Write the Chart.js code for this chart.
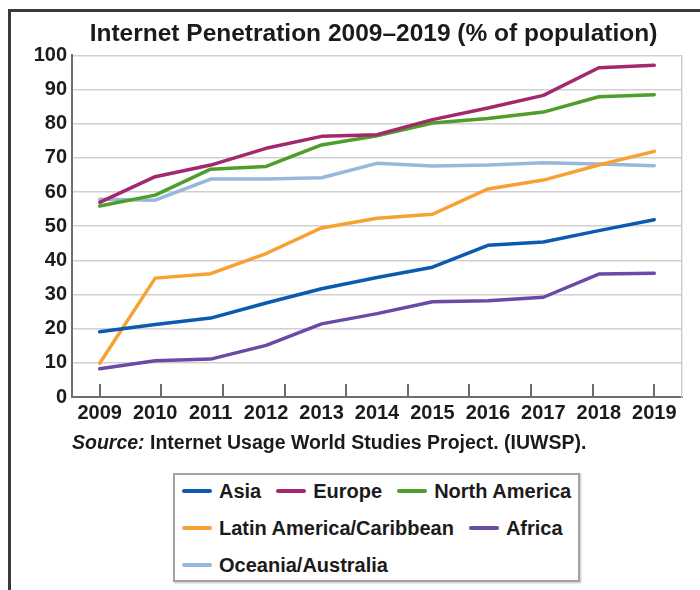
<!DOCTYPE html>
<html>
<head>
<meta charset="utf-8">
<script src="https://cdn.jsdelivr.net/npm/chart.js@4.4.1/dist/chart.umd.min.js"></script>
<style>
  html, body { margin: 0; padding: 0; background: #fff; }
  #wrap { position: relative; width: 700px; height: 590px; overflow: hidden;
          font-family: "Liberation Sans", Arial, Helvetica, sans-serif; color: #1b1b1b; }
  #frameTop { position: absolute; left: 8px; top: 9px; width: 692px; height: 3px; background: #3a3a3a; }
  #frameLeft { position: absolute; left: 8px; top: 9px; width: 3px; height: 581px; background: #3a3a3a; }
  #cv { position: absolute; left: 0; top: 0; }
  #source { position: absolute; left: 72px; top: 431px; font-size: 19.5px; font-weight: bold;
            line-height: 22px; white-space: nowrap; }
  #source i { font-weight: bold; }
  #legend { position: absolute; left: 173px; top: 473px; width: 403px; height: 105px;
            border: 2px solid #a3a3a3; box-shadow: 1px 1px 2px rgba(0,0,0,0.25); background: #fff; }
  .row { position: absolute; left: 7px; height: 24px; display: flex; align-items: center; white-space: nowrap; }
  .item { display: flex; align-items: center; margin-right: 15px; font-size: 20px; font-weight: bold; }
  .sw { width: 30px; height: 4px; border-radius: 2px; margin-right: 7px; }
</style>
</head>
<body>
<div id="wrap">
  <div id="frameTop"></div>
  <div id="frameLeft"></div>
  <canvas id="cv" width="700" height="435"></canvas>
  <div id="source"><i>Source:</i> Internet Usage World Studies Project. (IUWSP).</div>
  <div id="legend"></div>
</div>
<script>
const years = ['2009','2010','2011','2012','2013','2014','2015','2016','2017','2018','2019'];
const yTickValues = [0,10,20,30,40,50,60,70,80,90,100];

const asia         = [19.1, 21.2, 23.1, 27.5, 31.7, 35.0, 38.0, 44.4, 45.4, 48.7, 51.9];
const europe       = [57.0, 64.5, 67.9, 72.8, 76.3, 76.8, 81.2, 84.6, 88.3, 96.4, 97.1];
const northAmerica = [55.9, 59.1, 66.7, 67.5, 73.8, 76.5, 80.2, 81.5, 83.4, 87.9, 88.5];
const latinAmerica = [9.9, 34.8, 36.1, 42.0, 49.5, 52.3, 53.5, 60.9, 63.5, 67.9, 71.9];
const africa       = [8.3, 10.6, 11.1, 15.1, 21.4, 24.4, 27.9, 28.2, 29.2, 36.0, 36.2];
const oceania      = [57.9, 57.6, 63.8, 63.8, 64.2, 68.4, 67.6, 67.9, 68.6, 68.2, 67.7];

const seriesNames  = ['Asia', 'Europe', 'North America', 'Latin America/Caribbean', 'Africa', 'Oceania/Australia'];
const seriesValues = [asia, europe, northAmerica, latinAmerica, africa, oceania];
const seriesColors = ['#0c5bae', '#a3286d', '#4f9d2b', '#f8a133', '#6a4aa6', '#96b8da'];

const datasets = seriesNames.map((name, i) => ({
  label: name,
  data: seriesValues[i],
  borderColor: seriesColors[i],
  backgroundColor: seriesColors[i],
  borderWidth: 3.5,
  pointRadius: 0,
  pointHoverRadius: 0,
  tension: 0,
  fill: false,
  borderJoinStyle: 'round',
  borderCapStyle: 'round'
}));

// inner tick marks rising from the x axis (10 evenly spaced between first and last year, as in the source)
const innerTicks = {
  id: 'innerTicks',
  afterLayout(chart) {
    // nudge the title a few pixels left, as in the source
    if (chart.titleBlock) { chart.titleBlock.left -= 7; }
  },
  beforeDatasetsDraw(chart) {
    const xs = chart.scales.x, ctx = chart.ctx;
    const p0 = xs.getPixelForValue(0), p1 = xs.getPixelForValue(years.length - 1);
    const n = 10;
    ctx.save();
    ctx.strokeStyle = '#6b6b6b';
    ctx.lineWidth = 2;
    for (let k = 0; k < n; k++) {
      const px = Math.round(p0 + (p1 - p0) * k / (n - 1));
      ctx.beginPath();
      ctx.moveTo(px, xs.top);
      ctx.lineTo(px, xs.top - 13);
      ctx.stroke();
    }
    ctx.restore();
  }
};

const FONT = '"Liberation Sans", Arial, Helvetica, sans-serif';

const chart = new Chart(document.getElementById('cv'), {
  type: 'line',
  data: { labels: years, datasets: datasets },
  options: {
    responsive: false,
    animation: false,
    devicePixelRatio: 1,
    layout: { padding: { left: 32, right: 18, top: 10, bottom: 6 } },
    plugins: {
      legend: { display: false },
      tooltip: { enabled: false },
      title: {
        display: true,
        fullSize: false,
        text: 'Internet Penetration 2009\u20132019 (% of population)',
        color: '#1b1b1b',
        font: { family: FONT, size: 24.5, weight: 'bold' },
        padding: { top: 10, bottom: 6 }
      }
    },
    scales: {
      x: {
        type: 'category',
        offset: true,
        grid: { display: false, drawTicks: false },
        border: { display: true, color: '#6e6e6e', width: 2 },
        ticks: { color: '#1b1b1b', font: { family: FONT, size: 20, weight: 'bold' },
                 padding: 4, maxRotation: 0, autoSkip: false }
      },
      y: {
        min: 0, max: 100,
        afterBuildTicks: (axis) => { axis.ticks = yTickValues.map(v => ({ value: v })); },
        afterFit: (axis) => { axis.width = 40; },
        grid: { color: '#d0d0d0', lineWidth: 1.5, drawTicks: false },
        border: { display: true, color: '#6e6e6e', width: 2 },
        ticks: { color: '#1b1b1b', font: { family: FONT, size: 20, weight: 'bold' }, padding: 5 }
      },
      y2: {
        position: 'right',
        display: true,
        grid: { display: false, drawTicks: false },
        border: { display: true, color: '#cccccc', width: 1.5 },
        ticks: { display: false }
      }
    }
  },
  plugins: [innerTicks]
});

// HTML legend built from the chart's datasets
const legendRows = [[0, 1, 2], [3, 4], [5]];
const rowTops = [4, 41, 78];
const legendEl = document.getElementById('legend');
legendRows.forEach((row, r) => {
  const rowEl = document.createElement('div');
  rowEl.className = 'row';
  rowEl.style.top = rowTops[r] + 'px';
  row.forEach(idx => {
    const ds = chart.data.datasets[idx];
    const item = document.createElement('div');
    item.className = 'item';
    const sw = document.createElement('span');
    sw.className = 'sw';
    sw.style.background = ds.borderColor;
    const tx = document.createElement('span');
    tx.textContent = ds.label;
    item.appendChild(sw);
    item.appendChild(tx);
    rowEl.appendChild(item);
  });
  legendEl.appendChild(rowEl);
});
</script>
</body>
</html>
